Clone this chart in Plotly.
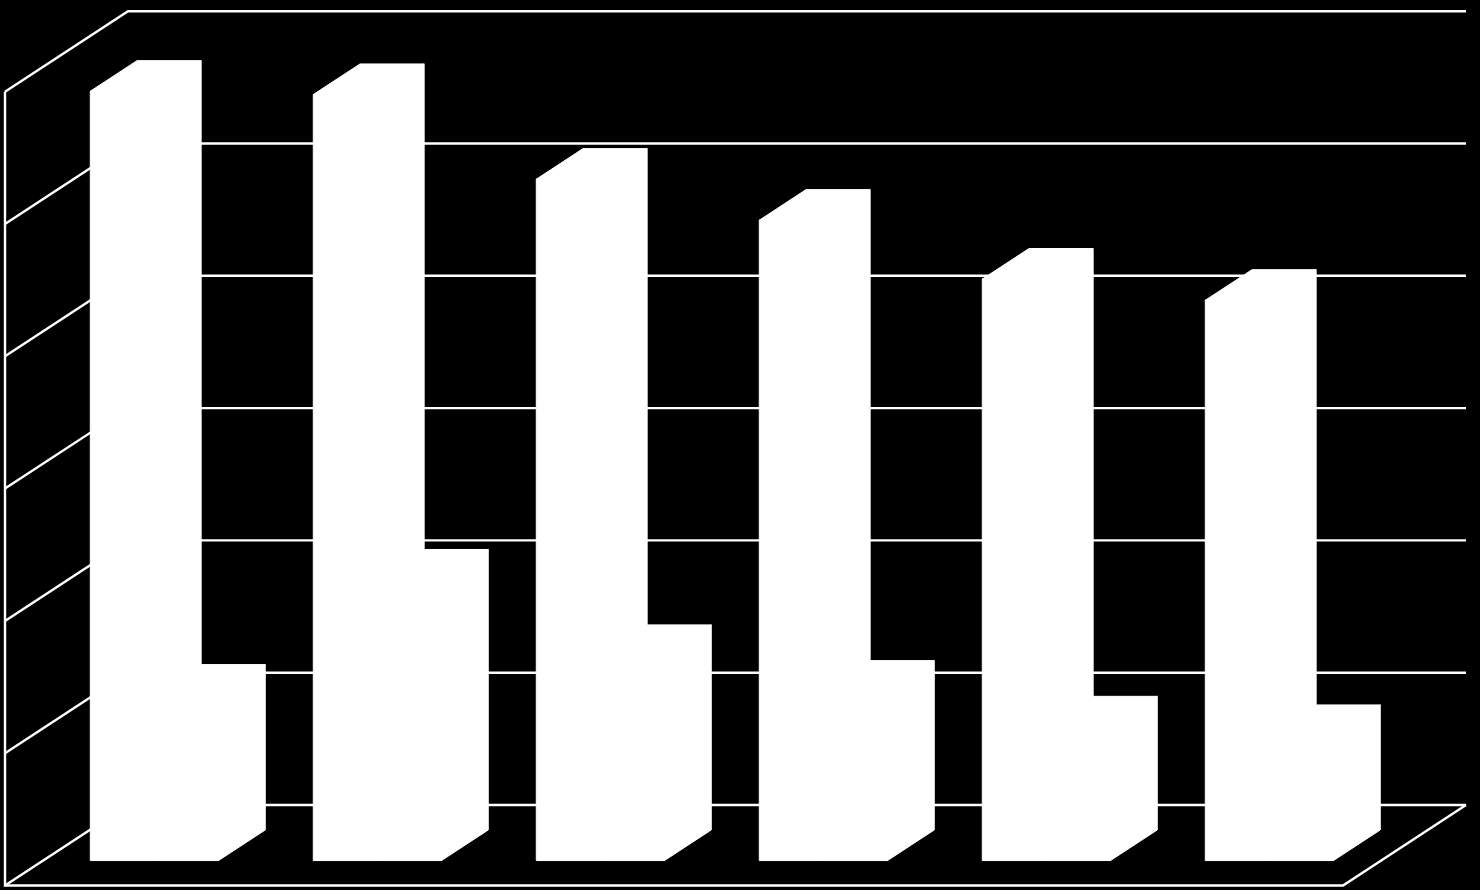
import plotly.graph_objs as go

categories = [1, 2, 3, 4, 5, 6]
series_a = [58.15, 57.9, 51.5, 48.4, 43.95, 42.35]
series_b = [12.5, 21.2, 15.5, 12.8, 10.1, 9.45]
y_ticks = [0, 10, 20, 30, 40, 50, 60]

# page size and where the chart box sits on it
W = 1480
H = 890
FLOOR_LEFT = 5
FLOOR_BOTTOM = 885.5
CAT_PX = 223
UNIT_PX = 13.23
DEPTH_X = 123 / CAT_PX
DEPTH_Y = 80.5 / UNIT_PX

BAR_W = 0.2875
GAP = 0.2115
BAR_D0 = 0.31
BAR_D1 = 0.69


# oblique projection: u along the categories, v up the value axis, d into the chart
def proj(u, v, d):
    return u + DEPTH_X * d, v + DEPTH_Y * d


def add_poly(xs, ys, pts):
    for p in pts:
        x, y = proj(*p)
        xs.append(x)
        ys.append(y)
    xs.append(None)
    ys.append(None)


def add_bar(xs, ys, u0, u1, top):
    add_poly(xs, ys, [(u0, 0, BAR_D0), (u1, 0, BAR_D0), (u1, top, BAR_D0), (u0, top, BAR_D0), (u0, 0, BAR_D0)])
    add_poly(xs, ys, [(u0, top, BAR_D0), (u1, top, BAR_D0), (u1, top, BAR_D1), (u0, top, BAR_D1), (u0, top, BAR_D0)])
    add_poly(xs, ys, [(u1, 0, BAR_D0), (u1, 0, BAR_D1), (u1, top, BAR_D1), (u1, top, BAR_D0), (u1, 0, BAR_D0)])


n = len(categories)

# walls and floor
grid_x = []
grid_y = []
for t in y_ticks:
    gx, gy = proj(0, t, 0)
    bx, by = proj(0, t, 1)
    ex, ey = proj(n, t, 1)
    grid_x += [gx, bx, ex, None]
    grid_y += [gy, by, ey, None]

frame = [(0, y_ticks[-1], 0), (0, 0, 0), (n, 0, 0), (n, 0, 1)]
frame_x = [proj(*p)[0] for p in frame]
frame_y = [proj(*p)[1] for p in frame]

fig = go.Figure()
fig.add_trace(go.Scatter(x=grid_x, y=grid_y, mode="lines", line=dict(color="#ffffff", width=2.4), hoverinfo="skip"))
fig.add_trace(go.Scatter(x=frame_x, y=frame_y, mode="lines", line=dict(color="#ffffff", width=2.4), hoverinfo="skip"))

# series b first so that series a sits in front of it
for vals, offset in [(series_b, BAR_W), (series_a, 0)]:
    bar_x = []
    bar_y = []
    for i, v in enumerate(vals):
        u0 = i + GAP + offset
        add_bar(bar_x, bar_y, u0, u0 + BAR_W, v)
    fig.add_trace(go.Scatter(x=bar_x, y=bar_y, mode="lines", fill="toself", fillcolor="#ffffff",
                             line=dict(color="#ffffff", width=1), hoverinfo="skip"))

fig.update_layout(
    width=W,
    height=H,
    margin=dict(l=0, r=0, t=0, b=0),
    paper_bgcolor="#000000",
    plot_bgcolor="#000000",
    showlegend=False,
    xaxis=dict(range=[-FLOOR_LEFT / CAT_PX, (W - FLOOR_LEFT) / CAT_PX], visible=False),
    yaxis=dict(range=[(FLOOR_BOTTOM - H) / UNIT_PX, FLOOR_BOTTOM / UNIT_PX], visible=False),
)

fig.write_html("out.html", config=dict(displayModeBar=False),
               post_script="document.body.style.margin='0';document.body.style.background='#000';")
